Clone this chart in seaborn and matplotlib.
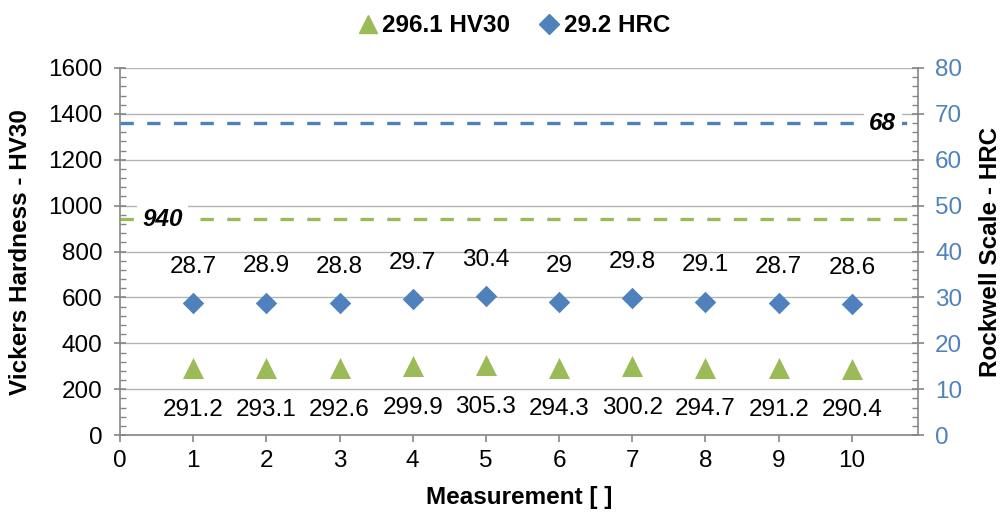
import matplotlib
matplotlib.use("Agg")
import matplotlib.pyplot as plt
import seaborn as sns
import numpy as np
import pandas as pd
from matplotlib.ticker import MultipleLocator
from matplotlib.lines import Line2D

measurement = [1, 2, 3, 4, 5, 6, 7, 8, 9, 10]
hv30 = [291.2, 293.1, 292.6, 299.9, 305.3, 294.3, 300.2, 294.7, 291.2, 290.4]
hrc = [28.7, 28.9, 28.8, 29.7, 30.4, 29, 29.8, 29.1, 28.7, 28.6]
hv_label = "296.1 HV30"
hrc_label = "29.2 HRC"
hv_limit = 940
hrc_limit = 68

GREEN = "#9BBB59"
BLUE = "#4F81BD"
GRID = "#B3B3B3"
SPINE = "#868686"
FS = 17.5

sns.set_theme(style="white")
plt.rcParams['font.family'] = ['Liberation Sans', 'DejaVu Sans']
plt.rcParams['text.color'] = 'black'
plt.rcParams['axes.labelcolor'] = 'black'
plt.rcParams['xtick.color'] = 'black'
plt.rcParams['ytick.color'] = 'black'

fig = plt.figure(figsize=(10.03, 5.15), dpi=100)
ax = fig.add_axes([0.1196, 0.155, 0.7954, 0.713])
ax2 = ax.twinx()

df = pd.DataFrame({"m": measurement, "hv": hv30, "hrc": hrc})

ax.set_xlim(0, 10.9)
ax.set_ylim(0, 1600)
ax2.set_ylim(0, 80)

ax.yaxis.set_major_locator(MultipleLocator(200))
ax.yaxis.set_minor_locator(MultipleLocator(40))
ax2.yaxis.set_major_locator(MultipleLocator(10))
ax2.yaxis.set_minor_locator(MultipleLocator(2))
ax.xaxis.set_major_locator(MultipleLocator(1))

ax.grid(axis='y', which='major', color=GRID, lw=1)
ax.set_axisbelow(True)

# limit lines
ax.axhline(hv_limit, color=GREEN, lw=2.4, ls=(0, (4, 4)), zorder=2)
ax2.axhline(hrc_limit, color=BLUE, lw=2.4, ls=(0, (4, 4)), zorder=2)
ax.text(0.58, hv_limit, str(hv_limit), fontsize=FS, fontweight='bold', style='italic',
        ha='center', va='center', zorder=3, color='black',
        bbox=dict(facecolor='white', edgecolor='none', pad=4))
ax2.text(10.42, hrc_limit, str(hrc_limit), fontsize=FS, fontweight='bold', style='italic',
         ha='center', va='center', zorder=3, color='black',
         bbox=dict(facecolor='white', edgecolor='none', pad=4))

sns.scatterplot(data=df, x="m", y="hv", ax=ax, marker='^', s=230, color=GREEN,
                edgecolor=GREEN, linewidth=0, zorder=4, legend=False)
sns.scatterplot(data=df, x="m", y="hrc", ax=ax2, marker='D', s=120, color=BLUE,
                edgecolor=BLUE, linewidth=0, zorder=4, legend=False)

for m, v in zip(measurement, hv30):
    ax.annotate(f"{v:g}", (m, v), xytext=(0, -30), textcoords='offset points',
                ha='center', va='center', fontsize=FS, color='black')
for m, v in zip(measurement, hrc):
    ax2.annotate(f"{v:g}", (m, v), xytext=(0, 26), textcoords='offset points',
                 ha='center', va='center', fontsize=FS, color='black')

for a in (ax, ax2):
    for s in a.spines.values():
        s.set_visible(False)
ax.spines['left'].set_visible(True)
ax.spines['bottom'].set_visible(True)
ax2.spines['right'].set_visible(True)
for s in (ax.spines['left'], ax.spines['bottom'], ax2.spines['right']):
    s.set_color(SPINE)
    s.set_linewidth(1.2)

ax.tick_params(axis='y', which='major', direction='inout', length=9, color=SPINE,
               labelsize=FS, labelcolor='black', left=True, width=1.2, pad=8)
ax.tick_params(axis='y', which='minor', direction='in', length=4.5, color=SPINE, left=True)
ax.tick_params(axis='x', which='major', direction='out', length=5, color=SPINE,
               labelsize=FS, labelcolor='black', bottom=True, width=1.2, pad=6)
ax2.tick_params(axis='y', which='major', direction='inout', length=9, color=SPINE,
                labelsize=FS, labelcolor=BLUE, right=True, width=1.2, pad=8)
ax2.tick_params(axis='y', which='minor', direction='in', length=4.5, color=SPINE, right=True)

ax.set_xlabel("Measurement [ ]", fontsize=17.5, fontweight='bold', labelpad=10, color='black')
ax.set_ylabel("Vickers Hardness - HV30", fontsize=17.5, fontweight='bold', labelpad=12, color='black')
ax2.set_ylabel("Rockwell Scale - HRC", fontsize=17.5, fontweight='bold', labelpad=12, color='black')

handles = [Line2D([], [], marker='^', color=GREEN, ls='none', markersize=13),
           Line2D([], [], marker='D', color=BLUE, ls='none', markersize=10)]
leg = fig.legend(handles, [hv_label, hrc_label], loc='upper center', ncol=2,
                 bbox_to_anchor=(0.51, 1.015), frameon=False, handletextpad=0.0,
                 columnspacing=1.0, handlelength=1.2, prop={'weight': 'bold', 'size': 17.5})
for t in leg.get_texts():
    t.set_color('black')

fig.savefig("out.png", dpi=100)
